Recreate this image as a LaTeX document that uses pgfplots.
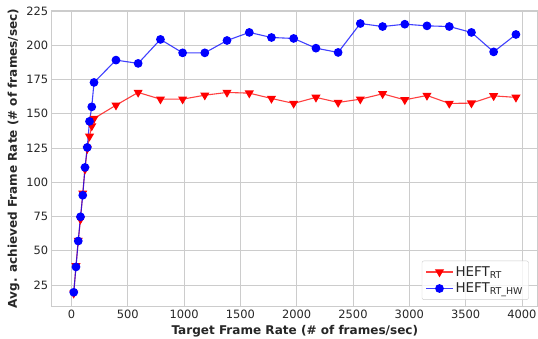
\documentclass[border=0pt]{standalone}
\usepackage{fontspec}
\setmainfont{DejaVu Sans}
\usepackage{pgfplots}
\pgfplotsset{compat=1.18}
\usetikzlibrary{calc}
\definecolor{gridgray}{HTML}{CCCCCC}
\definecolor{ticktext}{HTML}{262626}
\pgfplotstableread{
x y
20 19
40 39
60 57.5
80 73
100 92
120 109.5
140 124.5
160 133.5
180 141
200 146.5
395 156.2
592 165.5
790 160.6
987 160.6
1184 163.5
1381 165.5
1579 165.0
1776 161.1
1973 157.5
2171 161.9
2368 158.2
2565 160.6
2763 164.5
2960 160.1
3157 163.3
3355 157.5
3552 157.7
3749 163.0
3947 161.9
}\rtdata
\pgfplotstableread{
x y
20 19.7
40 38.2
60 57.1
80 74.8
100 90.5
120 110.8
140 125.4
160 144.4
180 155
200 172.8
395 189.1
592 186.7
790 204.2
987 194.4
1184 194.4
1381 203.4
1579 209.3
1776 205.6
1973 204.9
2171 197.8
2368 194.7
2565 215.8
2763 213.6
2960 215.3
3157 214.1
3355 213.6
3552 209.3
3749 195.1
3947 207.8
}\hwdata
\begin{document}
\begin{tikzpicture}
\begin{axis}[
  name=ax, scale only axis, width=486.6bp, height=296.2bp,
  xmin=-176, xmax=4143, ymin=9.3, ymax=225.3,
  xtick={0,500,...,4000}, ytick={25,50,...,225},
  grid=major, major grid style={gridgray, line width=0.8bp},
  axis line style={gridgray, line width=1.25bp},
  tick style={draw=none}, major tick length=0pt,
  ticklabel style={font=\fontsize{11.5}{13}\selectfont, text=ticktext},
  /pgf/number format/assume math mode=true,
  /pgf/number format/1000 sep={},
  xlabel={Target Frame Rate (\# of frames/sec)},
  ylabel={Avg. achieved Frame Rate (\# of frames/sec)},
  label style={font=\bfseries\fontsize{12.1}{14}\selectfont, text=ticktext},
  legend style={at={(1,0)}, anchor=south east, xshift=-9.3bp, yshift=6.7bp,
    draw=gridgray, rounded corners=2bp, fill=white, fill opacity=0.8, text opacity=1,
    text=ticktext, row sep=1.2bp, inner sep=3.5bp,
    nodes={font=\fontsize{13.5}{15}\selectfont}},
  legend cell align=left,
  legend image code/.code={\draw[mark repeat=2,mark phase=2,#1] plot coordinates {(0bp,0bp)(13.5bp,0bp)(27bp,0bp)};},
]
\addplot[red, line width=1.1bp, draw opacity=0.75, mark=triangle*, mark size=4.2bp,
  mark options={rotate=180, solid, draw opacity=1, fill opacity=1, fill=red}]
  table[x=x,y=y] {\rtdata};
\addlegendentry{HEFT\textsubscript{RT}}
\addplot[blue, line width=1.1bp, draw opacity=0.75, mark=*, mark size=3.8bp,
  mark options={solid, draw opacity=1, fill opacity=1, fill=blue}]
  table[x=x,y=y] {\hwdata};
\addlegendentry{HEFT\textsubscript{RT\_HW}}
\end{axis}
\pgfresetboundingbox
\path[use as bounding box] ($(ax.south west)+(-51.7bp,-32.3bp)$) rectangle ($(ax.north east)+(0bp,10.5bp)$);
\end{tikzpicture}
\end{document}
